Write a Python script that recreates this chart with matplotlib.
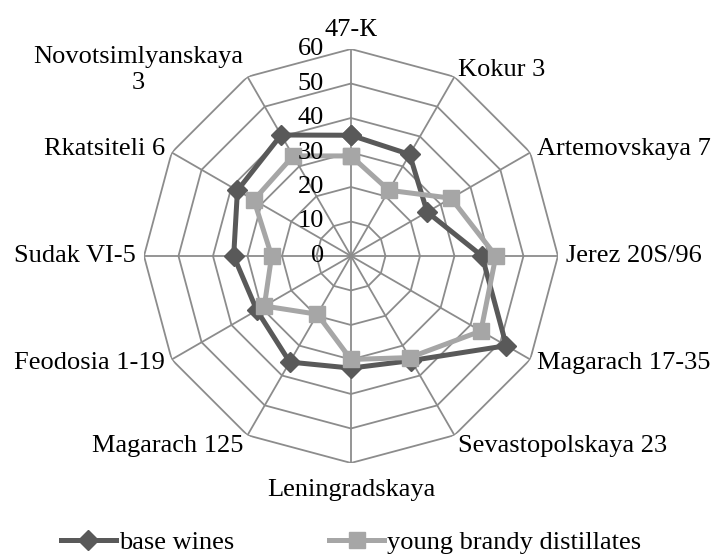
import numpy as np
import matplotlib
matplotlib.use("Agg")
import matplotlib.pyplot as plt
from matplotlib.lines import Line2D

categories = ["47-К", "Kokur 3", "Artemovskaya 7", "Jerez 20S/96", "Magarach 17-35",
              "Sevastopolskaya 23", "Leningradskaya", "Magarach 125", "Feodosia 1-19",
              "Sudak VI-5", "Rkatsiteli 6", "Novotsimlyanskaya\n3"]
base_wines = [35, 34, 25.5, 38, 52, 35, 32.5, 35.5, 31.5, 34, 38, 40.5]
young_brandy = [29, 22, 33.5, 42, 43.5, 34, 30, 19.5, 29, 23, 32.5, 33.5]
radial_ticks = [0, 10, 20, 30, 40, 50, 60]

plt.rcParams['font.family'] = ['Liberation Serif', 'DejaVu Serif']
FS = 19
DARK = '#595959'
LIGHT = '#a6a6a6'
GRID = '#8c8c8c'

fig = plt.figure(figsize=(7.17, 5.55), dpi=100)
ax = fig.add_axes([0.2008, 0.1658, 0.5774, 0.7459], projection='polar')
ax.set_theta_zero_location('N')
ax.set_theta_direction(-1)
ax.set_ylim(0, radial_ticks[-1])
ax.grid(False)
ax.spines['polar'].set_visible(False)
ax.set_xticks([])
ax.set_yticks([])
ax.patch.set_visible(False)

n = len(categories)
theta = np.arange(n) * 2 * np.pi / n
theta_c = np.append(theta, theta[0])

# grid polygons
for r in radial_ticks[1:]:
    ax.plot(theta_c, [r] * (n + 1), color=GRID, lw=1.3, zorder=1)
for t in theta:
    ax.plot([t, t], [0, radial_ticks[-1]], color=GRID, lw=1.3, zorder=1)

# data
bw = np.append(base_wines, base_wines[0])
yb = np.append(young_brandy, young_brandy[0])
ax.plot(theta_c, bw, color=DARK, lw=3.6, marker='D', markersize=10, zorder=3, clip_on=False)
ax.plot(theta_c, yb, color=LIGHT, lw=3.6, marker='s', markersize=11.5, zorder=4, clip_on=False)

# radial tick labels
for r in radial_ticks:
    ax.annotate(str(r), xy=(0, r), xytext=(-27, 0), textcoords='offset pixels',
                ha='right', va='center', fontsize=FS, color='black', zorder=5)

# category labels
rmax = radial_ticks[-1]
for t, lab in zip(theta, categories):
    s, c = np.sin(t), np.cos(t)
    off = 8
    dx, dy = off * s, off * c
    if abs(s) < 0.1:
        ha = 'center'
        if c > 0:
            va = 'bottom'
        else:
            va = 'top'
            dy = -16
    else:
        ha = 'left' if s > 0 else 'right'
        if c < -0.8:
            va = 'top'
            dy = 0
        else:
            va = 'center'
    ax.annotate(lab, xy=(t, rmax), xytext=(dx, dy), textcoords='offset pixels',
                ha=ha, va=va, fontsize=FS, multialignment='center', annotation_clip=False)

handles = [Line2D([], [], color=DARK, lw=3.6, marker='D', markersize=10),
           Line2D([], [], color=LIGHT, lw=3.6, marker='s', markersize=11.5)]
fig.legend(handles, ['base wines', 'young brandy distillates'], loc='center',
           bbox_to_anchor=(351 / 717, 1 - 542 / 555), ncol=2, frameon=False,
           fontsize=FS, handlelength=2.1, handletextpad=0.1, columnspacing=3.6,
           numpoints=1)

fig.savefig('out.png', dpi=100)
